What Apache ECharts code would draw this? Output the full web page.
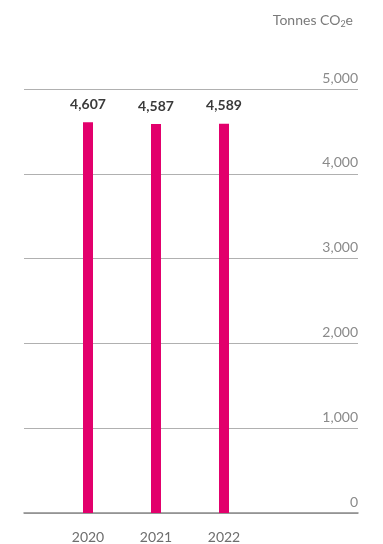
<!DOCTYPE html>
<html><head><meta charset="utf-8">
<script src="https://cdn.jsdelivr.net/npm/echarts@6/dist/echarts.min.js"></script>
<style>html,body{margin:0;padding:0;background:#fff}#c{width:383px;height:544px}</style>
</head><body><div id="c"></div>
<script>
const categories = ['2020', '2021', '2022'];
const emissions = [4607, 4587, 4589];
const yTicks = [0, 1000, 2000, 3000, 4000, 5000];

const chart = echarts.init(document.getElementById('c'), null, {renderer: 'canvas'});
const font = 'Lato, "Noto Sans", sans-serif';
chart.setOption({
  animation: false,
  title: {
    text: '{a|Tonnes CO}{b|2}{a|e}',
    right: 25, top: 7,
    textStyle: {
      fontWeight: 'normal',
      rich: {
        a: {fontFamily: font, fontSize: 14, fontWeight: 'normal', color: '#7a7a7a'},
        b: {fontFamily: font, fontSize: 9, fontWeight: 'normal', color: '#7a7a7a', padding: [8, 0, 0, 0]}
      }
    }
  },
  grid: [
    {left: 24, right: 25, top: 89, bottom: 31},
    {left: 54, right: 125, top: 89, bottom: 31}
  ],
  xAxis: [
    {type: 'category', gridIndex: 0, data: categories,
     axisLine: {show: true, lineStyle: {color: '#8a8a8a', width: 1.5}},
     axisTick: {show: false}, axisLabel: {show: false}, splitLine: {show: false}},
    {type: 'category', gridIndex: 1, data: categories,
     axisLine: {show: false}, axisTick: {show: false},
     axisLabel: {fontFamily: font, fontSize: 14, color: '#6e6e6e', margin: 17}}
  ],
  yAxis: [
    {type: 'value', gridIndex: 0, position: 'right', min: yTicks[0], max: yTicks[yTicks.length - 1], interval: 1000,
     axisLine: {show: false}, axisTick: {show: false},
     axisLabel: {inside: true, margin: 0, verticalAlign: 'bottom', padding: [0, 0, 4, 0],
       fontFamily: font, fontSize: 14, color: '#8a8a8a',
       formatter: v => v.toLocaleString('en-US')},
     splitLine: {show: true, lineStyle: {color: '#b0b0b0', width: 1}}},
    {type: 'value', gridIndex: 1, min: yTicks[0], max: yTicks[yTicks.length - 1], interval: 1000,
     show: false, splitLine: {show: false}}
  ],
  series: [{
    type: 'bar', xAxisIndex: 1, yAxisIndex: 1,
    data: emissions, barWidth: 10,
    itemStyle: {color: '#e2006c'},
    label: {show: true, position: 'top', distance: 11,
      fontFamily: font, fontSize: 14, fontWeight: 'bold', color: '#3a3a3a',
      formatter: p => p.value.toLocaleString('en-US')}
  }]
});
</script></body></html>
